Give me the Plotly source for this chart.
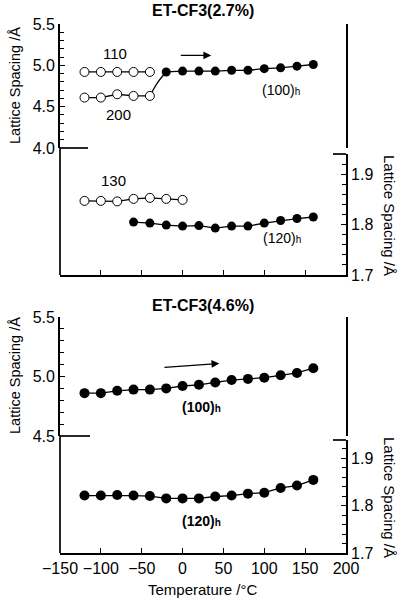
import plotly.graph_objects as go

# ---------------- data ----------------
# Panel 1: ET-CF3(2.7%)
t_110 = [-120, -100, -80, -60, -40]
d_110 = [4.92, 4.92, 4.92, 4.92, 4.92]
t_200 = [-120, -100, -80, -60, -40]
d_200 = [4.61, 4.61, 4.65, 4.63, 4.63]
t_100h_a = [-20, 0, 20, 40, 60, 80, 100, 120, 140, 160]
d_100h_a = [4.92, 4.93, 4.93, 4.93, 4.94, 4.94, 4.96, 4.97, 4.99, 5.01]
t_conn = [-40, -30, -20]
d_conn = [4.63, 4.80, 4.92]
t_130 = [-120, -100, -80, -60, -40, -20, 0]
d_130 = [1.847, 1.847, 1.846, 1.851, 1.853, 1.851, 1.849]
t_120h_a = [-60, -40, -20, 0, 20, 40, 60, 80, 100, 120, 140, 160]
d_120h_a = [1.805, 1.803, 1.799, 1.797, 1.798, 1.793, 1.797, 1.797, 1.803, 1.808, 1.812, 1.815]

# Panel 2: ET-CF3(4.6%)
t_b = [-120, -100, -80, -60, -40, -20, 0, 20, 40, 60, 80, 100, 120, 140, 160]
d_100h_b = [4.86, 4.86, 4.88, 4.89, 4.89, 4.90, 4.92, 4.93, 4.95, 4.97, 4.98, 4.99, 5.01, 5.03, 5.07]
d_120h_b = [1.821, 1.821, 1.822, 1.821, 1.820, 1.815, 1.815, 1.815, 1.819, 1.821, 1.825, 1.827, 1.837, 1.842, 1.854]

x_ticks = [-150, -100, -50, 0, 50, 100, 150, 200]
right_ticks = [1.7, 1.8, 1.9]

# ---------------- figure ----------------
W, H = 406, 600
FONT = "Liberation Sans, Arial, sans-serif"
BLK = "black"
LW = 1.7

def px(x):
    return x / W

def py(y):
    return 1 - y / H

XD = [px(60), px(346)]

fig = go.Figure()

def open_trace(x, y, xa, ya):
    fig.add_trace(go.Scatter(x=x, y=y, xaxis=xa, yaxis=ya, mode="lines+markers",
                             line=dict(color=BLK, width=1.3),
                             marker=dict(symbol="circle", size=9, color="white",
                                         line=dict(color=BLK, width=1)),
                             showlegend=False, hoverinfo="skip"))

def fill_trace(x, y, xa, ya, size=9):
    fig.add_trace(go.Scatter(x=x, y=y, xaxis=xa, yaxis=ya, mode="lines+markers",
                             line=dict(color=BLK, width=1.3),
                             marker=dict(symbol="circle", size=size, color=BLK,
                                         line=dict(color=BLK, width=0)),
                             showlegend=False, hoverinfo="skip"))

# connector curve (200 -> (100)h)
fig.add_trace(go.Scatter(x=t_conn, y=d_conn, xaxis="x", yaxis="y", mode="lines",
                         line=dict(color=BLK, width=1.3, shape="spline"),
                         showlegend=False, hoverinfo="skip"))
open_trace(t_110, d_110, "x", "y")
open_trace(t_200, d_200, "x", "y")
fill_trace(t_100h_a, d_100h_a, "x", "y")
open_trace(t_130, d_130, "x", "y2")
fill_trace(t_120h_a, d_120h_a, "x", "y2")
fill_trace(t_b, d_100h_b, "x2", "y3", size=10)
fill_trace(t_b, d_120h_b, "x2", "y4", size=10)

tickfont = dict(family=FONT, size=16, color=BLK)
common_x = dict(range=[-150, 200], tickvals=x_ticks, ticks="inside", ticklen=5,
                tickcolor=BLK, tickwidth=1.2, showline=True, linecolor=BLK,
                linewidth=LW, showgrid=False, zeroline=False, domain=XD,
                tickfont=tickfont, tickangle=0, automargin=False)
top_x = dict(range=[-150, 200], showline=True, linecolor=BLK, linewidth=LW,
             ticks="", showticklabels=False, showgrid=False, zeroline=False,
             domain=XD, side="top", automargin=False)

def left_y(rng, dom, anchor):
    return dict(range=rng, domain=dom, anchor=anchor, dtick=0.5, tick0=4.0,
                tickformat=".1f", ticks="inside", ticklen=5, tickcolor=BLK,
                tickwidth=1.2, showline=True, mirror=True, linecolor=BLK,
                linewidth=LW, showgrid=False, zeroline=False, tickfont=tickfont,
                automargin=False,
                minor=dict(dtick=0.1, tick0=4.0, ticks="inside", ticklen=4,
                           tickcolor=BLK, tickwidth=1, showgrid=False))

def right_y(rng, dom, anchor):
    return dict(range=rng, domain=dom, anchor=anchor, side="right",
                tickvals=right_ticks, tickformat=".1f", ticks="inside", ticklen=5,
                tickcolor=BLK, tickwidth=1.2, showline=True, linecolor=BLK,
                linewidth=LW, showgrid=False, zeroline=False, tickfont=tickfont,
                automargin=False,
                minor=dict(dtick=0.02, tick0=1.7, ticks="inside", ticklen=4,
                           tickcolor=BLK, tickwidth=1, showgrid=False))

fig.update_layout(
    width=W, height=H, autosize=False,
    margin=dict(l=0, r=0, t=0, b=0, autoexpand=False),
    paper_bgcolor="white", plot_bgcolor="white",
    font=dict(family=FONT, color=BLK),
    xaxis=dict(common_x, anchor="y2", showticklabels=False),
    xaxis3=dict(top_x, anchor="y", matches="x"),
    xaxis2=dict(common_x, anchor="y4", showticklabels=True),
    xaxis4=dict(top_x, anchor="y3", matches="x2"),
    yaxis=left_y([4.0, 5.5], [py(148), py(24)], "x"),
    yaxis2=right_y([1.7, 1.94], [py(275), py(154)], "x"),
    yaxis3=left_y([4.5, 5.5], [py(436), py(317)], "x2"),
    yaxis4=right_y([1.7, 1.938], [py(553), py(440)], "x2"),
)

# frame pieces (broken-axis look)
def seg(x0, y0, x1, y1):
    fig.add_shape(type="line", xref="paper", yref="paper",
                  x0=px(x0), y0=py(y0), x1=px(x1), y1=py(y1),
                  line=dict(color=BLK, width=LW))

seg(60, 148, 60, 275)
seg(60, 148, 88, 148)
seg(333, 154, 346, 154)
seg(60, 436, 60, 553)
seg(60, 436, 90, 436)
seg(333, 440, 346, 440)

# titles
def ann(text, x, y, size, bold=False, angle=0, xref="paper", yref="paper"):
    if bold:
        text = "<b>" + text + "</b>"
    fig.add_annotation(text=text, x=x, y=y, xref=xref, yref=yref, showarrow=False,
                       textangle=angle, font=dict(family=FONT, size=size, color=BLK),
                       xanchor="center", yanchor="middle")

ann("ET-CF3(2.7%)", 0.5, py(11), 16, bold=True)
ann("ET-CF3(4.6%)", 0.5, py(305), 16, bold=True)
ann("Temperature /°C", px(203), py(589), 15)
ylab = "Lattice Spacing /Å"
ann(ylab, px(15), py(86), 14.5, angle=-90)
ann(ylab, px(390), py(215), 15, angle=90)
ann(ylab, px(15), py(376), 14.5, angle=-90)
ann(ylab, px(390), py(497), 15, angle=90)

# data labels
small_h = "<span style='font-size:10px'>h</span>"
ann("110", -83, 5.146, 15, xref="x", yref="y")
ann("200", -79, 4.41, 15, xref="x", yref="y")
ann("(100)" + small_h, 121, 4.70, 14, xref="x", yref="y")
ann("130", -85, 1.888, 15, xref="x", yref="y2")
ann("(120)" + small_h, 122, 1.774, 14, xref="x", yref="y2")
ann("<b>(100)" + small_h + "</b>", 23, 4.74, 14, xref="x2", yref="y3")
ann("<b>(120)" + small_h + "</b>", 23, 1.768, 14, xref="x2", yref="y4")

# arrows
fig.add_annotation(x=35, y=5.12, ax=-4, ay=5.12, xref="x", yref="y", axref="x", ayref="y",
                   showarrow=True, arrowhead=2, arrowsize=1.2, arrowwidth=1.3,
                   arrowcolor=BLK, text="")
fig.add_annotation(x=45, y=5.11, ax=-24, ay=5.076, xref="x2", yref="y3", axref="x2", ayref="y3",
                   showarrow=True, arrowhead=2, arrowsize=1.2, arrowwidth=1.3,
                   arrowcolor=BLK, text="")

fig.write_html("out.html",
               config={"displayModeBar": False},
               post_script="document.body.style.margin='0';document.body.style.padding='0';"
                           "document.documentElement.style.overflow='hidden';")
